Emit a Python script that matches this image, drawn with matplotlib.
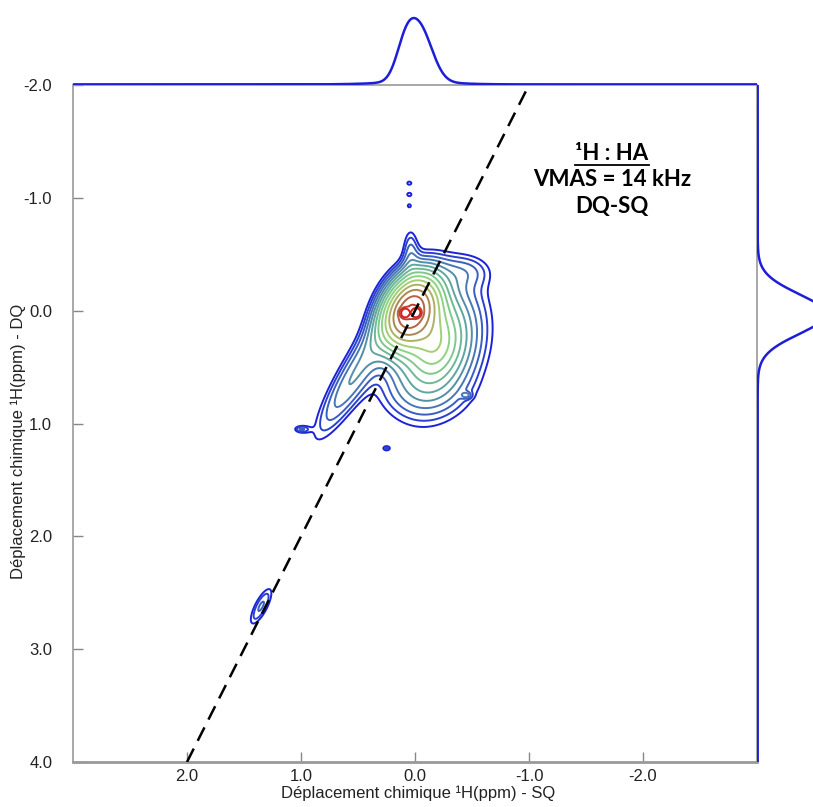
import numpy as np
import matplotlib
matplotlib.use("Agg")
import matplotlib.pyplot as plt
from matplotlib.lines import Line2D

# axis ranges (ppm)
sq_range = [3.0, -3.0]
dq_range = [4.0, -2.0]
sq_ticks = [2.0, 1.0, 0.0, -1.0, -2.0]
dq_ticks = [-2.0, -1.0, 0.0, 1.0, 2.0, 3.0, 4.0]

# 2D peak components read from the map: centre, widths (major/minor), tilt, height,
# line shape ('g' gaussian, 'e' exponential-tailed, 's' flat-topped)
peak_sq = [0.04, -0.18, 0.095, -0.015, 0.55, -0.05, 0.04, -0.45,
           0.05, 0.05, 0.05, 1.35, 0.25, 1.00, -0.45]
peak_dq = [0.00, 0.30, 0.02, 0.02, 0.60, 0.75, -0.55, -0.35,
           -1.13, -1.03, -0.93, 2.62, 1.22, 1.05, 0.75]
peak_wmaj = [0.21, 0.24, 0.04, 0.04, 0.45, 0.30, 0.15, 0.16,
             0.025, 0.025, 0.02, 0.16, 0.03, 0.05, 0.03]
peak_wmin = [0.14, 0.16, 0.04, 0.04, 0.10, 0.15, 0.05, 0.10,
             0.02, 0.02, 0.02, 0.05, 0.02, 0.025, 0.02]
peak_tilt = [65, 75, 0, 0, 60, 0, 90, 0, 0, 0, 0, 63, 0, 0, 0]
peak_amp = [0.75, 0.35, 0.20, 0.20, 0.10, 0.02, 0.05, 0.04,
            0.05, 0.05, 0.045, 0.07, 0.045, 0.06, 0.045]
peak_shape = ['g', 'e', 's', 's', 'g', 'g', 'g', 'g',
              'g', 'g', 'g', 'g', 'g', 'g', 'g']

contour_levels = [0.04, 0.052, 0.067, 0.086, 0.11, 0.14, 0.178, 0.225,
                  0.285, 0.36, 0.45, 0.56, 0.69, 0.82, 0.925]
contour_colors = ['#1c22d8', '#2a40cf', '#3a5ec2', '#4878b4', '#548fa9',
                  '#5fa5a0', '#6db897', '#7fc98c', '#8fd382', '#a3cf74',
                  '#acb263', '#ad8752', '#b56443', '#c33c30', '#d42020']

# 1D projections (external spectra): centre, width, height
top_pos = [-0.04, 0.09, 0.0]
top_width = [0.11, 0.08, 0.30]
top_amp = [0.85, 0.42, 0.04]
right_pos = [0.03]
right_width = [0.178]
right_amp = [1.0]

# DQ = 2 x SQ diagonal
diag_sq = [2.0, -1.0]
diag_dq = [4.0, -2.0]

# grid and field
sq = np.linspace(3.0, -3.0, 800)
dq = np.linspace(-2.0, 4.0, 800)
X, Y = np.meshgrid(sq, dq)
Z = np.zeros_like(X)
for x0, y0, a, b, t, h, kind in zip(peak_sq, peak_dq, peak_wmaj, peak_wmin,
                                    peak_tilt, peak_amp, peak_shape):
    th = np.radians(t)
    dx, dy = X - x0, Y - y0
    u = dx * np.cos(th) + dy * np.sin(th)
    v = -dx * np.sin(th) + dy * np.cos(th)
    q = u**2 / a**2 + v**2 / b**2
    if kind == 'e':
        Z += h * np.exp(1.0 - np.sqrt(1.0 + q))
    elif kind == 's':
        Z += h * np.exp(-0.5 * q**2)
    else:
        Z += h * np.exp(-0.5 * q)

top_spec = np.zeros_like(sq)
for p, w, h in zip(top_pos, top_width, top_amp):
    top_spec += h * np.exp(-0.5 * ((sq - p) / w) ** 2)
right_spec = np.zeros_like(dq)
for p, w, h in zip(right_pos, right_width, right_amp):
    right_spec += h * np.exp(-0.5 * ((dq - p) / w) ** 2)

W, H = 813, 807
fig = plt.figure(figsize=(W / 100, H / 100), dpi=100)
plt.rcParams['font.family'] = ['Liberation Sans', 'DejaVu Sans']

x0p, x1p, y0p, y1p = 73, 757, 85, 762
ax = fig.add_axes([x0p / W, 1 - y1p / H, (x1p - x0p) / W, (y1p - y0p) / H])
ax.contour(X, Y, Z, levels=contour_levels, colors=contour_colors, linewidths=1.4)
ax.plot(diag_sq, diag_dq, color='black', lw=1.8, dashes=(6, 3.5), zorder=5)
ax.set_xlim(sq_range)
ax.set_ylim(dq_range)
ax.set_xticks(sq_ticks)
ax.set_xticklabels([f"{v:.1f}" for v in sq_ticks])
ax.set_yticks(dq_ticks)
ax.set_yticklabels([f"{v:.1f}" for v in dq_ticks])
ax.tick_params(direction='in', length=7, width=1, color='#888888',
               labelsize=12, labelcolor='#222222')
ax.tick_params(axis='x', pad=5)
ax.tick_params(axis='y', pad=15)
for s in ax.spines.values():
    s.set_color('#999999')
    s.set_linewidth(1.2)
ax.spines['bottom'].set_linewidth(2)
ax.set_xlabel("Déplacement chimique \u00b9H(ppm) - SQ", fontsize=12, color='#222222')
ax.set_ylabel("Déplacement chimique \u00b9H(ppm) - DQ", fontsize=12, color='#222222')
ax.xaxis.set_label_coords(0.504, -0.035)
ax.yaxis.set_label_coords(-0.068, 0.473)

# top projection
axt = fig.add_axes([x0p / W, 1 - y0p / H, (x1p - x0p) / W, y0p / H])
axt.plot(sq, top_spec, color='#1e1ed8', lw=1.8)
axt.set_xlim(sq_range)
axt.set_ylim(-0.01, 1.35)
axt.axis('off')

# right projection (runs past the figure edge)
axr = fig.add_axes([x1p / W, 1 - y1p / H, 140 / W, (y1p - y0p) / H])
axr.plot(right_spec, dq, color='#1e1ed8', lw=1.8)
axr.set_ylim(dq_range)
axr.set_xlim(-0.01, 2.05)
axr.axis('off')

# annotation
tx = 612 / W
t1 = fig.text(tx, 1 - 153 / H, "\u00b9H : HA", ha='center', va='center',
              fontsize=16, fontweight='bold', family=['Lato', 'DejaVu Sans'])
fig.text(tx, 1 - 180 / H, "VMAS = 14 kHz", ha='center', va='center',
         fontsize=16, fontweight='bold', family=['Lato', 'DejaVu Sans'])
fig.text(tx, 1 - 207 / H, "DQ-SQ", ha='center', va='center',
         fontsize=16, fontweight='bold', family=['Lato', 'DejaVu Sans'])
fig.canvas.draw()
bb = t1.get_window_extent()
fig.add_artist(Line2D([bb.x0 / W, bb.x1 / W], [(bb.y0 - 1) / H, (bb.y0 - 1) / H],
                      color='black', lw=1.3, transform=fig.transFigure))

fig.savefig("out.png", dpi=100)
